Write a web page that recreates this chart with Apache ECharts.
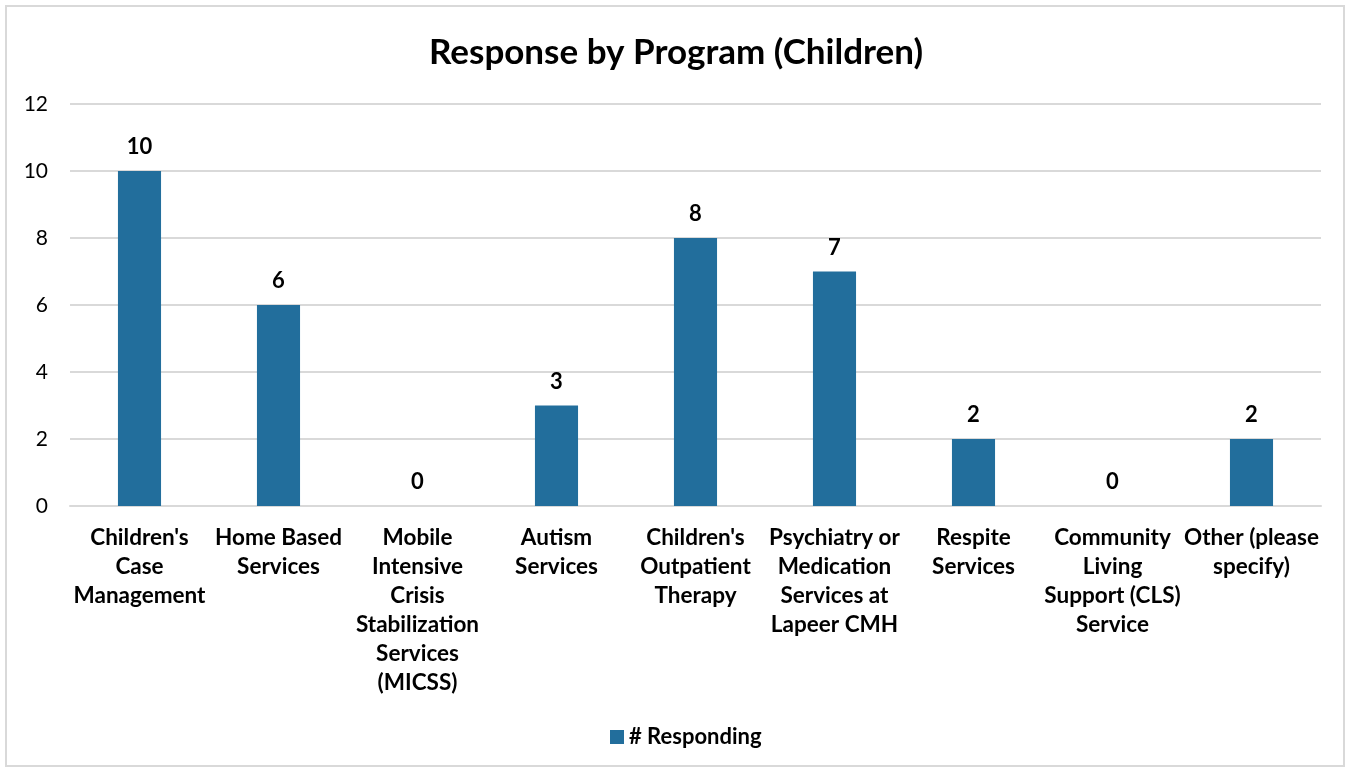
<!DOCTYPE html>
<html>
<head>
<meta charset="utf-8">
<script src="https://cdn.jsdelivr.net/npm/echarts@6/dist/echarts.min.js"></script>
<style>
  html, body { margin: 0; padding: 0; background: #fff; }
  #frame { position: absolute; left: 5px; top: 5px; width: 1340px; height: 762px; border: 2px solid #d9d9d9; box-sizing: border-box; }
  #chart { position: absolute; left: 0; top: 0; width: 1352px; height: 772px; }
</style>
</head>
<body>
<div id="frame"></div>
<div id="chart"></div>
<script>
const programs = [
  "Children's\nCase\nManagement",
  "Home Based\nServices",
  "Mobile\nIntensive\nCrisis\nStabilization\nServices\n(MICSS)",
  "Autism\nServices",
  "Children's\nOutpatient\nTherapy",
  "Psychiatry or\nMedication\nServices at\nLapeer CMH",
  "Respite\nServices",
  "Community\nLiving\nSupport (CLS)\nService",
  "Other (please\nspecify)"
];
const responding = [10, 6, 0, 3, 8, 7, 2, 0, 2];

const FONT = 'Lato, "Open Sans", sans-serif';
const chart = echarts.init(document.getElementById('chart'), null, { renderer: 'canvas' });
chart.setOption({
  backgroundColor: 'transparent',
  animation: false,
  title: {
    text: 'Response by Program (Children)',
    left: 'center',
    top: 30,
    textStyle: { fontFamily: FONT, fontSize: 35, fontWeight: 'bold', color: '#000' }
  },
  legend: {
    bottom: 19,
    left: 605,
    itemWidth: 14,
    itemHeight: 14,
    itemGap: 5,
    icon: 'rect',
    textStyle: { fontFamily: FONT, fontSize: 22, fontWeight: 'bold', color: '#000' },
    data: ['# Responding']
  },
  grid: { left: 70, right: 31, top: 104, bottom: 266, containLabel: false },
  xAxis: {
    type: 'category',
    data: programs,
    axisLine: { lineStyle: { color: '#d9d9d9', width: 2 } },
    axisTick: { show: false },
    axisLabel: {
      interval: 0,
      margin: 17,
      fontFamily: FONT, fontSize: 22.5, fontWeight: 'bold', color: '#000',
      lineHeight: 29
    }
  },
  yAxis: {
    type: 'value',
    min: 0, max: 12, interval: 2,
    axisLine: { show: false },
    axisTick: { show: false },
    splitLine: { lineStyle: { color: '#d9d9d9', width: 2 } },
    axisLabel: { margin: 22, fontFamily: FONT, fontSize: 21, color: '#000' }
  },
  series: [{
    name: '# Responding',
    type: 'bar',
    data: responding,
    barWidth: '31%',
    itemStyle: { color: '#226E9C' },
    label: {
      show: true,
      position: 'top',
      distance: 13,
      fontFamily: FONT, fontSize: 22, fontWeight: 'bold', color: '#000'
    }
  }]
});
</script>
</body>
</html>
